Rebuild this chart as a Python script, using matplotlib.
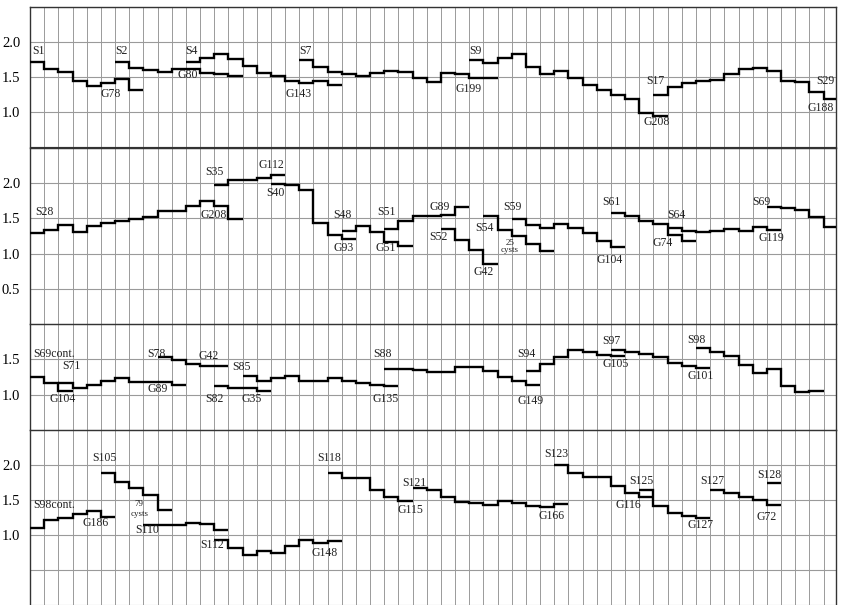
import matplotlib
matplotlib.use("Agg")
import matplotlib.pyplot as plt
import numpy as np

# ---------------- data ----------------
# each series: start column, then one value per column
# Panel 1
S1_start, S1 = 0, [1.71, 1.61, 1.57, 1.44, 1.37, 1.41, 1.47, 1.32]
S2_start, S2 = 6, [1.71, 1.63, 1.60, 1.57, 1.62, 1.62, 1.56, 1.54, 1.52]
S4_start, S4 = 11, [1.71, 1.77, 1.83, 1.76, 1.66, 1.56, 1.51, 1.45, 1.41, 1.44, 1.39]
S7_start, S7 = 19, [1.74, 1.64, 1.57, 1.55, 1.52, 1.56, 1.59, 1.57, 1.49, 1.43,
                    1.56, 1.55, 1.49, 1.49]
S9_start, S9 = 31, [1.74, 1.70, 1.77, 1.83, 1.65, 1.55, 1.58, 1.48, 1.39, 1.31,
                    1.25, 1.18, 0.98, 0.94]
S17_start, S17 = 44, [1.25, 1.36, 1.41, 1.44, 1.46, 1.54, 1.61, 1.63, 1.59, 1.45,
                      1.43, 1.29, 1.18]
# Panel 2
S28_start, S28 = 0, [1.29, 1.34, 1.41, 1.31, 1.39, 1.44, 1.47, 1.49, 1.52, 1.60,
                     1.60, 1.67, 1.75, 1.68, 1.49]
S35_start, S35 = 13, [1.98, 2.05, 2.05, 2.07, 2.12]
S40_start, S40 = 17, [1.99, 1.98, 1.90, 1.43, 1.26, 1.21]
S48_start, S48 = 22, [1.32, 1.39, 1.31, 1.16, 1.11]
S51_start, S51 = 25, [1.35, 1.46, 1.54, 1.53, 1.55, 1.66]
S52_start, S52 = 29, [1.35, 1.20, 1.05, 0.85]
S54_start, S54 = 32, [1.54, 1.33, 1.25, 1.13, 1.03]
S59_start, S59 = 34, [1.49, 1.41, 1.37, 1.42, 1.36, 1.29, 1.18, 1.10]
S61_start, S61 = 41, [1.57, 1.53, 1.46, 1.42, 1.26, 1.18]
S64_start, S64 = 45, [1.36, 1.32, 1.30, 1.32, 1.35, 1.32, 1.38, 1.34]
S69_start, S69 = 52, [1.66, 1.65, 1.62, 1.52, 1.38]
# Panel 3
S69c_start, S69c = 0, [1.25, 1.17, 1.05]
S71_start, S71 = 2, [1.16, 1.10, 1.14, 1.20, 1.23, 1.18, 1.18, 1.18, 1.14]
S78_start, S78 = 9, [1.53, 1.49, 1.43, 1.40, 1.40]
S82_start, S82 = 13, [1.12, 1.10, 1.10, 1.05]
S85_start, S85 = 15, [1.26, 1.19, 1.23, 1.26, 1.20, 1.19, 1.24, 1.20, 1.17, 1.14, 1.12]
S88_start, S88 = 25, [1.36, 1.36, 1.35, 1.32, 1.32, 1.39, 1.39, 1.34, 1.25, 1.20, 1.14]
S94_start, S94 = 35, [1.34, 1.43, 1.53, 1.63, 1.61, 1.56, 1.55]
S97_start, S97 = 41, [1.63, 1.60, 1.57, 1.54, 1.45, 1.40, 1.38]
S98_start, S98 = 47, [1.66, 1.60, 1.55, 1.42, 1.30, 1.36, 1.12, 1.04, 1.05]
# Panel 4
S98c_start, S98c = 0, [1.10, 1.22, 1.25, 1.30, 1.34, 1.26]
S105_start, S105 = 5, [1.88, 1.76, 1.67, 1.57, 1.36]
S110_start, S110 = 8, [1.15, 1.15, 1.15, 1.17, 1.16, 1.07]
S112_start, S112 = 13, [0.93, 0.81, 0.72, 0.77, 0.75, 0.84, 0.93, 0.89, 0.92]
S118_start, S118 = 21, [1.89, 1.81, 1.81, 1.64, 1.55, 1.48]
S121_start, S121 = 27, [1.67, 1.64, 1.54, 1.47, 1.46, 1.43, 1.48, 1.46, 1.42, 1.40, 1.44]
S123_start, S123 = 37, [2.00, 1.89, 1.83, 1.83, 1.70, 1.60, 1.55]
S125_start, S125 = 43, [1.65, 1.41, 1.31, 1.27, 1.24]
S127_start, S127 = 48, [1.65, 1.60, 1.55, 1.50, 1.43]
S128_start, S128 = 52, [1.74]

# labels: (text, column, value)
P1_labels = [("S1", 0.15, 1.78), ("S2", 6.0, 1.78), ("S4", 10.95, 1.78), ("G80", 10.4, 1.45),
             ("G78", 4.95, 1.17), ("S7", 19.0, 1.79), ("G143", 18.0, 1.17), ("S9", 31.0, 1.79),
             ("G199", 30.0, 1.24), ("S17", 43.5, 1.35), ("G208", 43.3, 0.77),
             ("S29", 55.5, 1.35), ("G188", 54.9, 0.97)]
P2_labels = [("S28", 0.35, 1.50), ("S35", 12.35, 2.07), ("G112", 16.1, 2.18), ("S40", 16.7, 1.78),
             ("G208", 12.0, 1.47), ("S48", 21.4, 1.47), ("G93", 21.4, 1.00), ("S51", 24.5, 1.50),
             ("G51", 24.4, 1.00), ("G89", 28.2, 1.57), ("S52", 28.2, 1.15), ("S54", 31.4, 1.28),
             ("S59", 33.4, 1.58), ("G42", 31.3, 0.65), ("G104", 40.0, 0.82), ("S61", 40.4, 1.65),
             ("S64", 45.0, 1.47), ("G74", 43.9, 1.07), ("S69", 51.0, 1.65), ("G119", 51.4, 1.14)]
P2_small = [("25", 33.6, 1.10), ("cysts", 33.2, 0.99)]
P3_labels = [("S69cont.", 0.2, 1.49), ("S71", 2.26, 1.32), ("G104", 1.4, 0.85), ("S78", 8.3, 1.49),
             ("G89", 8.3, 0.99), ("G42", 11.9, 1.46), ("S82", 12.35, 0.85), ("S85", 14.3, 1.30),
             ("G35", 14.9, 0.85), ("S88", 24.2, 1.49), ("G135", 24.2, 0.85), ("S94", 34.4, 1.49),
             ("G149", 34.4, 0.82), ("S97", 40.4, 1.68), ("G105", 40.4, 1.35), ("S98", 46.4, 1.69),
             ("G101", 46.4, 1.18)]
P4_labels = [("S98cont.", 0.2, 1.34), ("G186", 3.7, 1.08), ("S105", 4.4, 2.01), ("S110", 7.4, 0.98),
             ("S112", 12.0, 0.77), ("G148", 19.9, 0.65), ("S118", 20.3, 2.01), ("G115", 25.9, 1.27),
             ("S121", 26.3, 1.65), ("S123", 36.3, 2.07), ("G166", 35.9, 1.18), ("S125", 42.3, 1.68),
             ("G116", 41.3, 1.34), ("G127", 46.4, 1.05), ("S127", 47.3, 1.68), ("S128", 51.3, 1.77),
             ("G72", 51.3, 1.17)]
P4_small = [("79", 7.4, 1.38), ("cysts", 7.1, 1.25)]

P1_ticks = ["1.0", "1.5", "2.0"]
P2_ticks = ["0.5", "1.0", "1.5", "2.0"]
P3_ticks = ["1.0", "1.5"]
P4_ticks = ["1.0", "1.5", "2.0"]

panel1 = [(S1_start, S1), (S2_start, S2), (S4_start, S4), (S7_start, S7), (S9_start, S9),
          (S17_start, S17)]
panel2 = [(S28_start, S28), (S35_start, S35), (S40_start, S40), (S48_start, S48),
          (S51_start, S51), (S52_start, S52), (S54_start, S54), (S59_start, S59),
          (S61_start, S61), (S64_start, S64), (S69_start, S69)]
panel3 = [(S69c_start, S69c), (S71_start, S71), (S78_start, S78), (S82_start, S82),
          (S85_start, S85), (S88_start, S88), (S94_start, S94), (S97_start, S97),
          (S98_start, S98)]
panel4 = [(S98c_start, S98c), (S105_start, S105), (S110_start, S110), (S112_start, S112),
          (S118_start, S118), (S121_start, S121), (S123_start, S123), (S125_start, S125),
          (S127_start, S127), (S128_start, S128)]

# ---------------- layout ----------------
W, H = 842, 605
LEFT, RIGHT = 30, 836
NCOLS = 56.88
fig = plt.figure(figsize=(W / 100, H / 100), dpi=100)
fig.patch.set_facecolor("white")

specs = [
    (7, 147, 0.5, 2.5, panel1, P1_labels, [], P1_ticks),
    (148, 324, 0.0, 2.5, panel2, P2_labels, P2_small, P2_ticks),
    (324, 430, 0.5, 2.0, panel3, P3_labels, [], P3_ticks),
    (430, 605, 0.0, 2.5, panel4, P4_labels, P4_small, P4_ticks),
]

FONT = "Liberation Serif"
for i, (top, bot, y0, y1, series, labels, small, ticks) in enumerate(specs):
    ax = fig.add_axes([LEFT / W, (H - bot) / H, (RIGHT - LEFT) / W, (bot - top) / H])
    ax.set_xlim(0, NCOLS)
    ax.set_ylim(y0, y1)
    # grid
    for c in range(0, 57):
        ax.axvline(c, color="#9a9a9a", lw=0.7, zorder=1)
    ygrid = np.arange(y0, y1 + 0.001, 0.5)
    for yv in ygrid:
        ax.axhline(yv, color="#9a9a9a", lw=0.8, zorder=1)
    for start, vals in series:
        edges = np.arange(start, start + len(vals) + 1)
        ax.stairs(vals, edges, color="black", lw=1.7, baseline=None, zorder=3)
    for txt, x, y in labels:
        ax.text(x, y, txt, fontsize=8.5, family=FONT, ha="left", va="bottom",
                color="#222222", zorder=4)
    for txt, x, y in small:
        ax.text(x, y, txt, fontsize=6.5, family=FONT, ha="left", va="bottom",
                color="#222222", zorder=4)
    ax.set_xticks([])
    tvals = [float(t) for t in ticks]
    ax.set_yticks(tvals)
    ax.set_yticklabels(ticks, family=FONT, fontsize=10.5)
    ax.tick_params(axis="y", length=0, pad=7)
    for s in ["left", "right", "top"]:
        ax.spines[s].set_color("#333333")
        ax.spines[s].set_linewidth(1.0)
    ax.spines["bottom"].set_visible(i in (0,))
    ax.spines["bottom"].set_color("#333333")

fig.savefig("out.png", dpi=100, facecolor="white")
